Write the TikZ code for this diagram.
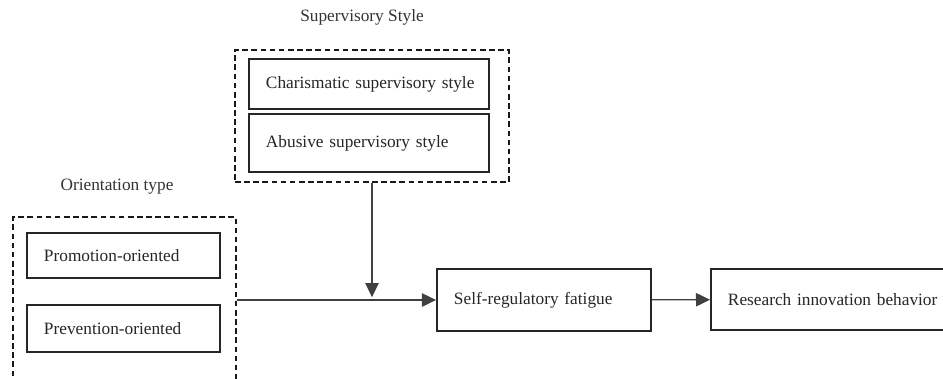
\documentclass[tikz,border=0pt]{standalone}
\usepackage{fontspec}
\setmainfont{Liberation Serif}
\usepackage{tikz}
\usetikzlibrary{positioning, arrows.meta}

\begin{document}
\begin{tikzpicture}[
    x=0.025cm, y=-0.025cm,
    box/.style={rectangle, draw=black!85, line width=1.3pt, fill=white,
                minimum width=#1, text width=#1-0.85cm, inner xsep=0.425cm,
                align=left, text=black!85, font=\fontsize{12.3}{14}\selectfont,
                execute at begin node={\hbox\bgroup}, execute at end node={\egroup}},
    group/.style={rectangle, draw=black!90, line width=1.3pt,
                dash pattern=on 4pt off 2.5pt},
    heading/.style={font=\fontsize{12.3}{14}\selectfont, text=black!80},
    arr/.style={-{Triangle[length=10pt, width=9.5pt]}, line width=0.9pt, black!75},
]
\useasboundingbox (0,0) rectangle (943,378);
\clip (0,0) rectangle (943,378);

% Group labels
\node[heading] (suplabel) at (362, 17) {Supervisory Style};
\node[heading] (orilabel) at (117, 187) {Orientation type};

% Supervisory style group
\node[group, minimum width=6.85cm, minimum height=3.3cm] (sup) at (372, 116) {};
\node[box=6cm, minimum height=1.25cm] (charis) at (369, 84) {Charismatic supervisory style};
\node[box=6cm, minimum height=1.45cm] (abuse) at (369, 143) {Abusive supervisory style};

% Orientation type group
\node[group, minimum width=5.575cm, minimum height=4.2cm] (orient) at (124.5, 301) {};
\node[box=4.825cm, minimum height=1.125cm] (promo) at (123.5, 255.5) {Promotion-oriented};
\node[box=4.825cm, minimum height=1.175cm] (prev) at (123.5, 328.5) {Prevention-oriented};

% Mediator and outcome
\node[box=5.35cm, minimum height=1.55cm] (fatigue) at (544, 300) {Self-regulatory fatigue};
\node[box=6.1cm, minimum height=1.525cm] (innov) at (833, 299.5) {Research innovation behavior};

% Arrows
\coordinate (meet) at (sup.south |- fatigue.west);
\draw[arr] (orient.east |- fatigue.west) -- (fatigue.west);
\draw[arr] (sup.south) -- ([yshift=2pt]meet);
\draw[arr] (fatigue) -- (innov);

\end{tikzpicture}
\end{document}
